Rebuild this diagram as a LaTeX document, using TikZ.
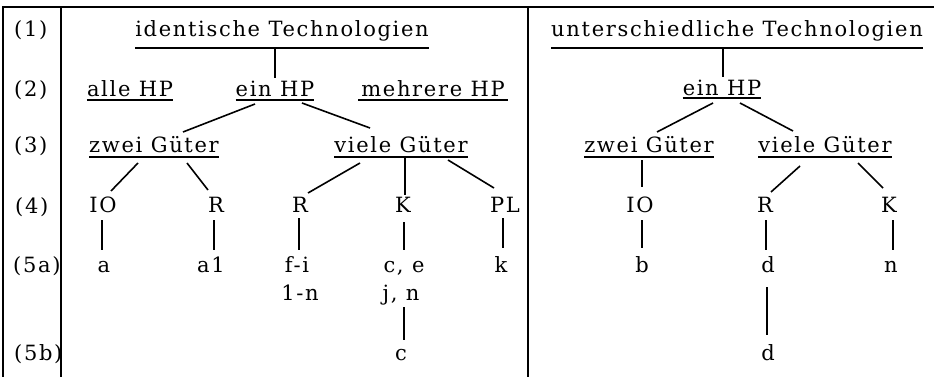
\documentclass[tikz,border=0pt]{standalone}
\usepackage{fontspec}
\newfontfamily\twfont{DejaVu Serif}[LetterSpace=8]
\begin{document}
\begin{tikzpicture}[x=1pt,y=-1pt,
  tx/.style={font=\twfont\fontsize{21}{25}\selectfont, inner sep=0pt, anchor=base},
  lab/.style={tx, anchor=base west},
  con/.style={line width=1.6pt},
  ul/.style={line width=1.4pt},
  frame/.style={line width=2.2pt}]
\useasboundingbox (0,0) rectangle (934,377);
% frame
\draw[frame] (3,377) -- (3,7) -- (934,7);
\draw[frame] (61,7) -- (61,377);
\draw[frame] (528,7) -- (528,377);
% row labels
\node[lab] (r1) at (14,37) {(1)};
\node[lab] (r2) at (14,97) {(2)};
\node[lab] (r3) at (14,153) {(3)};
\node[lab] (r4) at (15,213) {(4)};
\node[lab] (r5a) at (13,272) {(5a)};
\node[lab] (r5b) at (14,360) {(5b)};
% left tree
\node[tx] (idL) at (282,37) {identische Technologien};
\node[tx] (alleL) at (130,97) {alle HP};
\node[tx] (einL) at (275,97) {ein HP};
\node[tx, minimum width=149pt] (mehrL) at (433,97) {mehrere HP};
\node[tx] (zweiL) at (154,153) {zwei Güter};
\node[tx] (vieleL) at (401,153) {viele Güter};
\node[tx] (IOL) at (103,212) {IO};
\node[tx] (RL) at (216,212) {R};
\node[tx] (R2L) at (300,212) {R};
\node[tx] (KL) at (403,212) {K};
\node[tx] (PLL) at (505,212) {PL};
\node[tx] (aL) at (104,272) {a};
\node[tx] (a1L) at (211,272) {a1};
\node[tx] (fiL) at (297,272) {f-i};
\node[tx] (lnL) at (300,300) {1-n};
\node[tx] (ceL) at (404,272) {c, e};
\node[tx] (jnL) at (401,300) {j, n};
\node[tx] (cL) at (401,360) {c};
\node[tx] (kL) at (501,272) {k};
% right tree
\node[tx] (idR) at (737,37) {unterschiedliche Technologien};
\node[tx] (einR) at (722,96) {ein HP};
\node[tx] (zweiR) at (649,153) {zwei Güter};
\node[tx] (vieleR) at (825,153) {viele Güter};
\node[tx] (IOR) at (640,212) {IO};
\node[tx] (RR) at (765,212) {R};
\node[tx] (KR) at (889,212) {K};
\node[tx] (bR) at (642,272) {b};
\node[tx] (dR) at (768,272) {d};
\node[tx] (nR) at (891,272) {n};
\node[tx] (d2R) at (768,360) {d};
% underlines
\foreach \n/\d in {idL/11, alleL/3, einL/3, mehrL/3, zweiL/4, vieleL/4, idR/11, einR/2, zweiR/4, vieleR/4}
  \draw[ul] ([shift={(0,\d)}]\n.base west) -- ([shift={(0,\d)}]\n.base east);
% left connectors
\draw[con] ([shift={(-7,11)}]idL.base) -- ([shift={(0,-19)}]einL.base);
\draw[con] ([shift={(-20,7)}]einL.base) -- ([shift={(29,-21)}]zweiL.base);
\draw[con] ([shift={(27,6)}]einL.base) -- ([shift={(-31,-25)}]vieleL.base);
\draw[con] ([shift={(-16,10)}]zweiL.base) -- ([shift={(8,-21)}]IOL.base);
\draw[con] ([shift={(33,10)}]zweiL.base) -- ([shift={(-8,-22)}]RL.base);
\draw[con] ([shift={(-41,10)}]vieleL.base) -- ([shift={(8,-19)}]R2L.base);
\draw[con] ([shift={(4,5)}]vieleL.base) -- ([shift={(2,-17)}]KL.base);
\draw[con] ([shift={(47,7)}]vieleL.base) -- ([shift={(-11,-24)}]PLL.base);
\draw[con] ([shift={(-1,8)}]IOL.base) -- ([shift={(-2,-22)}]aL.base);
\draw[con] ([shift={(-2,8)}]RL.base) -- ([shift={(3,-22)}]a1L.base);
\draw[con] ([shift={(-1,6)}]R2L.base) -- ([shift={(2,-22)}]fiL.base);
\draw[con] ([shift={(1,10)}]KL.base) -- ([shift={(0,-22)}]ceL.base);
\draw[con] ([shift={(-2,6)}]PLL.base) -- ([shift={(2,-24)}]kL.base);
\draw[con] ([shift={(3,7)}]jnL.base) -- ([shift={(3,-20)}]cL.base);
% right connectors
\draw[con] ([shift={(-14,11)}]idR.base) -- ([shift={(1,-19)}]einR.base);
\draw[con] ([shift={(-9,7)}]einR.base) -- ([shift={(8,-21)}]zweiR.base);
\draw[con] ([shift={(18,7)}]einR.base) -- ([shift={(-32,-22)}]vieleR.base);
\draw[con] ([shift={(-7,7)}]zweiR.base) -- ([shift={(2,-25)}]IOR.base);
\draw[con] ([shift={(-25,13)}]vieleR.base) -- ([shift={(6,-20)}]RR.base);
\draw[con] ([shift={(33,10)}]vieleR.base) -- ([shift={(-6,-24)}]KR.base);
\draw[con] ([shift={(2,8)}]IOR.base) -- ([shift={(0,-24)}]bR.base);
\draw[con] ([shift={(1,8)}]RR.base) -- ([shift={(-2,-22)}]dR.base);
\draw[con] ([shift={(4,8)}]KR.base) -- ([shift={(2,-22)}]nR.base);
\draw[con] ([shift={(-1,15)}]dR.base) -- ([shift={(-1,-25)}]d2R.base);
\end{tikzpicture}
\end{document}
